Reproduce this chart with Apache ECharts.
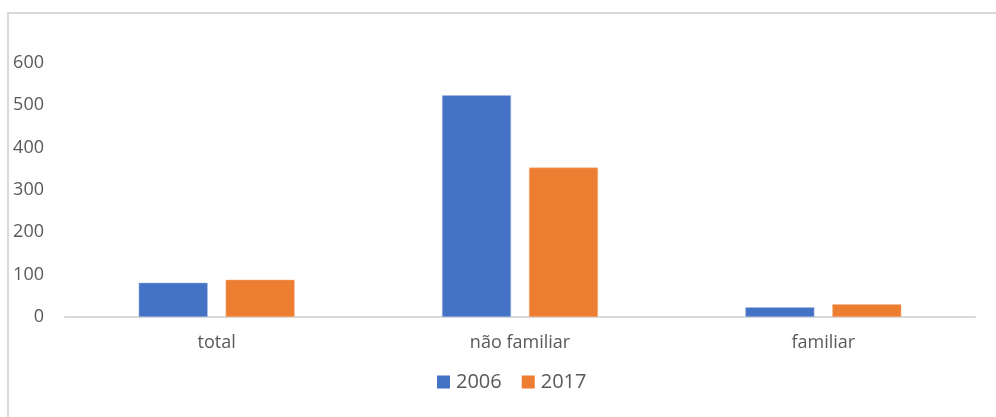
<!DOCTYPE html>
<html>
<head>
<meta charset="utf-8">
<script src="https://cdn.jsdelivr.net/npm/echarts@6/dist/echarts.min.js"></script>
<style>
  html, body { margin: 0; padding: 0; background: #fff; }
  #chart { width: 996px; height: 417px; }
</style>
</head>
<body>
<div id="chart"></div>
<script>
// categorias e valores
var categories = ['total', 'não familiar', 'familiar']
var seriesNames = ['2006', '2017']
var values2006 = [81, 524, 23]
var values2017 = [88, 353, 30]
var yTicks = [0, 100, 200, 300, 400, 500, 600]

var textColor = '#595959'
var fontFamily = '"Open Sans", "Noto Sans", sans-serif'

var myChart = echarts.init(document.getElementById('chart'), null, { renderer: 'canvas' })

var option = {
  animation: false,
  color: ['#4472c4', '#ed7d31'],
  textStyle: { fontFamily: fontFamily },
  // moldura cinza do gráfico
  graphic: [{
    type: 'rect',
    shape: { x: 8, y: 13, width: 1100, height: 600 },
    style: { fill: 'none', stroke: '#d9d9d9', lineWidth: 2 },
    silent: true
  }],
  grid: { left: 65, right: 21, top: 63, bottom: 100 },
  legend: {
    data: seriesNames,
    top: 372,
    left: 437,
    padding: 0,
    itemWidth: 13,
    itemHeight: 13,
    itemGap: 20,
    icon: 'rect',
    itemStyle: { borderWidth: 0 },
    textStyle: { color: textColor, fontSize: 20, lineHeight: 20, padding: [0, 0, 0, 1], fontFamily: fontFamily }
  },
  xAxis: {
    type: 'category',
    data: categories,
    axisLine: { lineStyle: { color: '#d9d9d9', width: 2 } },
    axisTick: { show: false },
    axisLabel: { color: textColor, fontSize: 18, margin: 17, fontFamily: fontFamily }
  },
  yAxis: {
    type: 'value',
    min: yTicks[0],
    max: yTicks[yTicks.length - 1],
    interval: 100,
    axisLine: { show: false },
    axisTick: { show: false },
    splitLine: { show: false },
    axisLabel: { color: textColor, fontSize: 18, margin: 21, fontFamily: fontFamily }
  },
  series: [
    {
      name: seriesNames[0],
      type: 'bar',
      data: values2006,
      barWidth: 69,
      barGap: '26%',
      itemStyle: { borderColor: '#a9bfe6', borderWidth: 0.5 }
    },
    {
      name: seriesNames[1],
      type: 'bar',
      data: values2017,
      barWidth: 69,
      barGap: '26%',
      itemStyle: { borderColor: '#f5b98f', borderWidth: 0.5 }
    }
  ]
}

myChart.setOption(option)
</script>
</body>
</html>
